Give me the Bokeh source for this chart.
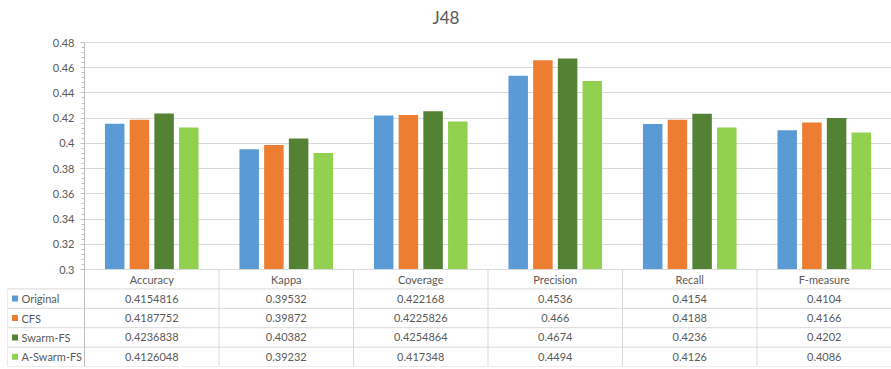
import numpy as np
from bokeh.plotting import figure
from bokeh.models import Range1d, FixedTicker, NumeralTickFormatter, ColumnDataSource
from bokeh.transform import dodge
from bokeh.core.properties import value
from bokeh.embed import file_html
from bokeh.resources import INLINE

# ---- data ----
categories = ["Accuracy", "Kappa", "Coverage", "Precision", "Recall", "F-measure"]
series = ["Original", "CFS", "Swarm-FS", "A-Swarm-FS"]
original = [0.4154816, 0.39532, 0.422168, 0.4536, 0.4154, 0.4104]
cfs = [0.4187752, 0.39872, 0.4225826, 0.466, 0.4188, 0.4166]
swarm_fs = [0.4236838, 0.40382, 0.4254864, 0.4674, 0.4236, 0.4202]
a_swarm_fs = [0.4126048, 0.39232, 0.417348, 0.4494, 0.4126, 0.4086]
y_ticks = [0.3, 0.32, 0.34, 0.36, 0.38, 0.4, 0.42, 0.44, 0.46, 0.48]

values = [original, cfs, swarm_fs, a_swarm_fs]
colors = ["#5B9BD5", "#ED7D31", "#548235", "#92D050"]
FONT = value("Lato")
TXT = "#595959"
GRID = "#d9d9d9"

# ---- layout constants (pixels) ----
W, H = 891, 369
TABLE_LEFT, CHART_LEFT = 7, 84
FRAME_TOP, CHART_TOP, CHART_BOTTOM, TABLE_BOTTOM = 30, 42, 269, 366
nc = len(categories)
cat_px = (W - CHART_LEFT) / nc
L = (CHART_LEFT - TABLE_LEFT) / cat_px
frame_h = TABLE_BOTTOM - FRAME_TOP
chart_h = CHART_BOTTOM - CHART_TOP
table_h = TABLE_BOTTOM - CHART_BOTTOM
y_lo, y_hi = y_ticks[0], y_ticks[-1]
u = (y_hi - y_lo) / chart_h
y_start = y_lo - table_h * u
y_end = y_hi + (CHART_TOP - FRAME_TOP) * u
n_rows = len(series) + 1

p = figure(width=W, height=H, output_backend="svg", toolbar_location=None,
           x_range=Range1d(-L, nc), y_range=Range1d(y_start, y_end),
           x_axis_location=None, y_axis_location="left",
           min_border_left=TABLE_LEFT, min_border_right=0, min_border_top=FRAME_TOP,
           min_border_bottom=H - TABLE_BOTTOM)
p.extra_y_ranges = {"table": Range1d(n_rows, n_rows - n_rows * frame_h / table_h)}
p.outline_line_color = None
p.xgrid.grid_line_color = None

minor = [round(a + k * (y_ticks[1] - y_ticks[0]) / 5, 4) for a in y_ticks[:-1] for k in range(1, 5)]
ticker = FixedTicker(ticks=y_ticks, minor_ticks=minor)
ax = p.yaxis[0]
ax.fixed_location = 0
ax.bounds = (y_start, y_hi)
ax.ticker = ticker
ax.formatter = NumeralTickFormatter(format="0.0[0]")
ax.axis_line_color = "#bfbfbf"
ax.major_tick_line_color = "#bfbfbf"
ax.minor_tick_line_color = "#bfbfbf"
ax.major_tick_out = 4
ax.major_tick_in = 0
ax.minor_tick_out = 3
ax.minor_tick_in = 0
ax.major_label_text_font = "Lato"
ax.major_label_text_font_size = "11px"
ax.major_label_text_color = TXT
ax.major_label_standoff = 6

p.ygrid.ticker = ticker
p.ygrid.grid_line_color = GRID
if "cross_bounds" in p.ygrid.properties():
    p.ygrid.cross_bounds = (0, nc)

p.title.text = "J48"
p.title.align = "left"
p.title.offset = 445 - TABLE_LEFT - 13
p.title.standoff = 5
p.title.text_font = "Lato"
p.title.text_font_size = "17px"
p.title.text_font_style = "normal"
p.title.text_color = TXT

# bars
step = 24.7 / cat_px
bw = 19.5 / cat_px
src = ColumnDataSource(dict(xc=[i + 0.5 for i in range(nc)], **{s: v for s, v in zip(series, values)}))
for i, (s, c) in enumerate(zip(series, colors)):
    off = (i - (len(series) - 1) / 2) * step
    p.vbar(x=dodge("xc", off), top=s, bottom=y_lo, width=bw, source=src,
           fill_color=c, line_color=None)

# ---- data table ----
x0, y0, x1, y1 = [0], [0], [nc], [0]
for r in range(1, n_rows + 1):
    x0.append(-L); x1.append(nc); y0.append(r); y1.append(r)
x0.append(-L); x1.append(-L); y0.append(1); y1.append(n_rows)
for k in range(1, nc + 1):
    x0.append(k); x1.append(k); y0.append(0); y1.append(n_rows)
p.segment(x0=x0, y0=y0, x1=x1, y1=y1, line_color=GRID, line_width=1, y_range_name="table")

TS = "11px"
p.text(x=[i + 0.5 for i in range(nc)], y=[0.5] * nc, text=categories, y_range_name="table",
       text_align="center", text_baseline="middle", text_font=FONT, text_font_size=TS,
       text_color=TXT)
tx, ty, tt = [], [], []
for r, v in enumerate(values):
    for i, val in enumerate(v):
        tx.append(i + 0.5); ty.append(r + 1.5); tt.append(repr(val))
p.text(x=tx, y=ty, text=tt, y_range_name="table", text_align="center", text_baseline="middle",
       text_font=FONT, text_font_size=TS, text_color=TXT)
p.scatter(x=[-L + 7.5 / cat_px] * len(series), y=[r + 1.5 for r in range(len(series))],
          y_range_name="table", marker="square", size=6, fill_color=colors, line_color=None)
p.text(x=[-L + 14 / cat_px] * len(series), y=[r + 1.5 for r in range(len(series))], text=series,
       y_range_name="table", text_align="left", text_baseline="middle", text_font=FONT,
       text_font_size=TS, text_color=TXT)

open("out.html", "w").write(file_html(p, INLINE))
